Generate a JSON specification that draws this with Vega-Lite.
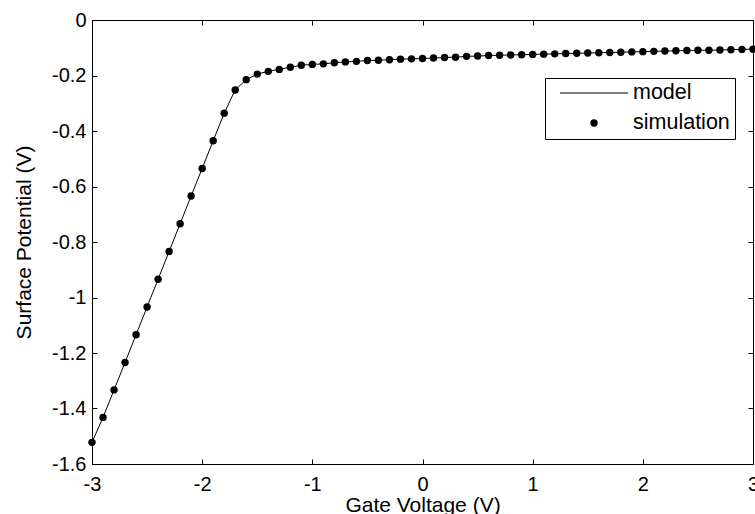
{
  "$schema": "https://vega.github.io/schema/vega-lite/v6.json",
  "autosize": "none",
  "padding": {"left": 92, "top": 20, "right": 2, "bottom": 50},
  "width": 661,
  "height": 444,
  "background": "white",
  "config": {
    "view": {"stroke": "black", "strokeWidth": 1},
    "font": "Liberation Sans",
    "axis": {
      "grid": false,
      "domain": false,
      "tickColor": "black",
      "tickSize": 5,
      "tickWidth": 1,
      "labelColor": "black",
      "titleColor": "black",
      "labelFont": "Liberation Sans",
      "titleFont": "Liberation Sans",
      "labelFontSize": 20,
      "titleFontSize": 21,
      "titleFontWeight": "normal"
    }
  },
  "data": {
    "values": [
      {"vg": -3.0, "psi": -1.522},
      {"vg": -2.9, "psi": -1.432},
      {"vg": -2.8, "psi": -1.333},
      {"vg": -2.7, "psi": -1.234},
      {"vg": -2.6, "psi": -1.134},
      {"vg": -2.5, "psi": -1.034},
      {"vg": -2.4, "psi": -0.934},
      {"vg": -2.3, "psi": -0.834},
      {"vg": -2.2, "psi": -0.734},
      {"vg": -2.1, "psi": -0.634},
      {"vg": -2.0, "psi": -0.535},
      {"vg": -1.9, "psi": -0.435},
      {"vg": -1.8, "psi": -0.336},
      {"vg": -1.7, "psi": -0.252},
      {"vg": -1.6, "psi": -0.215},
      {"vg": -1.5, "psi": -0.195},
      {"vg": -1.4, "psi": -0.185},
      {"vg": -1.3, "psi": -0.178},
      {"vg": -1.2, "psi": -0.170},
      {"vg": -1.1, "psi": -0.163},
      {"vg": -1.0, "psi": -0.160},
      {"vg": -0.9, "psi": -0.158},
      {"vg": -0.8, "psi": -0.154},
      {"vg": -0.7, "psi": -0.151},
      {"vg": -0.6, "psi": -0.149},
      {"vg": -0.5, "psi": -0.146},
      {"vg": -0.4, "psi": -0.145},
      {"vg": -0.3, "psi": -0.143},
      {"vg": -0.2, "psi": -0.141},
      {"vg": -0.1, "psi": -0.140},
      {"vg": 0.0, "psi": -0.139},
      {"vg": 0.1, "psi": -0.137},
      {"vg": 0.2, "psi": -0.135},
      {"vg": 0.3, "psi": -0.134},
      {"vg": 0.4, "psi": -0.131},
      {"vg": 0.5, "psi": -0.130},
      {"vg": 0.6, "psi": -0.128},
      {"vg": 0.7, "psi": -0.127},
      {"vg": 0.8, "psi": -0.126},
      {"vg": 0.9, "psi": -0.125},
      {"vg": 1.0, "psi": -0.124},
      {"vg": 1.1, "psi": -0.123},
      {"vg": 1.2, "psi": -0.122},
      {"vg": 1.3, "psi": -0.121},
      {"vg": 1.4, "psi": -0.120},
      {"vg": 1.5, "psi": -0.119},
      {"vg": 1.6, "psi": -0.118},
      {"vg": 1.7, "psi": -0.117},
      {"vg": 1.8, "psi": -0.116},
      {"vg": 1.9, "psi": -0.115},
      {"vg": 2.0, "psi": -0.114},
      {"vg": 2.1, "psi": -0.113},
      {"vg": 2.2, "psi": -0.112},
      {"vg": 2.3, "psi": -0.111},
      {"vg": 2.4, "psi": -0.110},
      {"vg": 2.5, "psi": -0.109},
      {"vg": 2.6, "psi": -0.109},
      {"vg": 2.7, "psi": -0.108},
      {"vg": 2.8, "psi": -0.107},
      {"vg": 2.9, "psi": -0.106},
      {"vg": 3.0, "psi": -0.105}
    ]
  },
  "layer": [
    {
      "mark": {"type": "line", "color": "black", "strokeWidth": 1, "clip": true},
      "encoding": {
        "x": {
          "field": "vg", "type": "quantitative",
          "scale": {"domain": [-3, 3], "nice": false, "zero": false},
          "axis": {"orient": "bottom", "title": "Gate Voltage (V)", "values": [-3, -2, -1, 0, 1, 2, 3], "ticks": false, "labelPadding": 10, "titlePadding": 0, "labelFlush": false,
                   "labelExpr": "datum.value < 0 ? '-' + format(-datum.value, '~g') : format(datum.value, '~g')"}
        },
        "y": {
          "field": "psi", "type": "quantitative",
          "scale": {"domain": [-1.6, 0], "nice": false, "zero": false},
          "axis": {"orient": "left", "title": "Surface Potential (V)", "values": [-1.6, -1.4, -1.2, -1, -0.8, -0.6, -0.4, -0.2, 0], "ticks": false, "labelPadding": 6, "titlePadding": 17, "labelFlush": false,
                   "labelExpr": "datum.value < 0 ? '-' + format(-datum.value, '~g') : format(datum.value, '~g')"}
        }
      }
    },
    {
      "mark": {"type": "point", "filled": true, "color": "black", "opacity": 1, "clip": false},
      "encoding": {
        "x": {
          "field": "vg", "type": "quantitative",
          "axis": {"orient": "bottom", "offset": -444, "title": null, "labels": false, "values": [-3, -2, -1, 0, 1, 2, 3]}
        },
        "y": {
          "field": "psi", "type": "quantitative",
          "axis": {"orient": "left", "offset": -661, "title": null, "labels": false, "values": [-1.6, -1.4, -1.2, -1, -0.8, -0.6, -0.4, -0.2, 0]}
        },
        "shape": {
          "datum": "simulation",
          "type": "nominal",
          "scale": {"domain": ["model", "simulation"], "range": ["M-1,-0.016H1V0.016H-1Z", "circle"]},
          "legend": {
            "title": null,
            "orient": "none",
            "legendX": 453,
            "legendY": 58,
            "direction": "vertical",
            "columns": 1,
            "padding": 5,
            "fillColor": "white",
            "strokeColor": "black",
            "clipHeight": 20,
            "rowPadding": 8,
            "symbolOffset": 10,
            "labelOffset": 5,
            "labelFont": "Liberation Sans",
            "labelFontSize": 21.5,
            "labelColor": "black",
            "symbolFillColor": "black",
            "symbolStrokeColor": "black",
            "symbolStrokeWidth": 0,
            "encode": {
              "symbols": {
                "update": {
                  "fill": {"value": "black"},
                  "opacity": {"value": 1}
                }
              }
            }
          }
        },
        "size": {
          "datum": "simulation",
          "type": "nominal",
          "scale": {"type": "ordinal", "domain": ["model", "simulation"], "range": [4624, 55]},
          "legend": {
            "title": null,
            "orient": "none",
            "legendX": 453,
            "legendY": 58,
            "direction": "vertical",
            "columns": 1,
            "padding": 5,
            "fillColor": "white",
            "strokeColor": "black",
            "clipHeight": 20,
            "rowPadding": 8,
            "symbolOffset": 10,
            "labelOffset": 5,
            "labelFont": "Liberation Sans",
            "labelFontSize": 21.5,
            "labelColor": "black",
            "symbolFillColor": "black",
            "symbolStrokeColor": "black",
            "symbolStrokeWidth": 0,
            "encode": {
              "symbols": {
                "update": {
                  "fill": {"value": "black"},
                  "opacity": {"value": 1}
                }
              }
            }
          }
        }
      }
    },
    {
      "mark": {"type": "line", "color": "black", "strokeWidth": 1, "opacity": 0, "clip": true},
      "encoding": {
        "x": {
          "field": "vg", "type": "quantitative",
          "axis": {"orient": "top", "offset": -444, "title": null, "labels": false, "values": [-3, -2, -1, 0, 1, 2, 3]}
        },
        "y": {
          "field": "psi", "type": "quantitative",
          "axis": {"orient": "right", "offset": -661, "title": null, "labels": false, "values": [-1.6, -1.4, -1.2, -1, -0.8, -0.6, -0.4, -0.2, 0]}
        }
      }
    }
  ],
  "resolve": {"axis": {"x": "independent", "y": "independent"}}
}
